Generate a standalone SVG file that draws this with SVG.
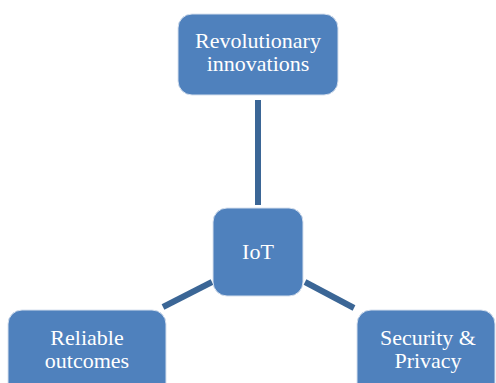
<svg xmlns="http://www.w3.org/2000/svg" width="496" height="383" viewBox="0 0 496 383">
  <style>
    .box { fill: #4f81bd; stroke: #d6e0ee; stroke-width: 1; }
    .label { font-family: "Liberation Serif", "DejaVu Serif", serif; font-size: 22px; fill: #ffffff; text-anchor: middle; }
    .link { stroke: #3b6696; stroke-width: 6; stroke-linecap: butt; fill: none; }
  </style>
  <rect width="496" height="383" fill="#ffffff"/>

  <g id="connectors">
    <line class="link" x1="258" y1="100" x2="258" y2="205"/>
    <line class="link" x1="212" y1="282" x2="163" y2="307"/>
    <line class="link" x1="305" y1="282" x2="354" y2="308"/>
  </g>

  <g id="node-revolutionary">
    <rect class="box" x="178" y="14" width="160" height="81" rx="14"/>
    <text class="label" x="258" y="48">Revolutionary</text>
    <text class="label" x="258" y="71">innovations</text>
  </g>

  <g id="node-iot">
    <rect class="box" x="213" y="208" width="90" height="88" rx="14"/>
    <text class="label" x="258" y="259">IoT</text>
  </g>

  <g id="node-reliable">
    <rect class="box" x="8" y="310" width="158" height="90" rx="14"/>
    <text class="label" x="87" y="345">Reliable</text>
    <text class="label" x="87" y="368">outcomes</text>
  </g>

  <g id="node-security">
    <rect class="box" x="357" y="310" width="138" height="90" rx="14"/>
    <text class="label" x="428" y="345">Security &amp;</text>
    <text class="label" x="428" y="368">Privacy</text>
  </g>
</svg>
